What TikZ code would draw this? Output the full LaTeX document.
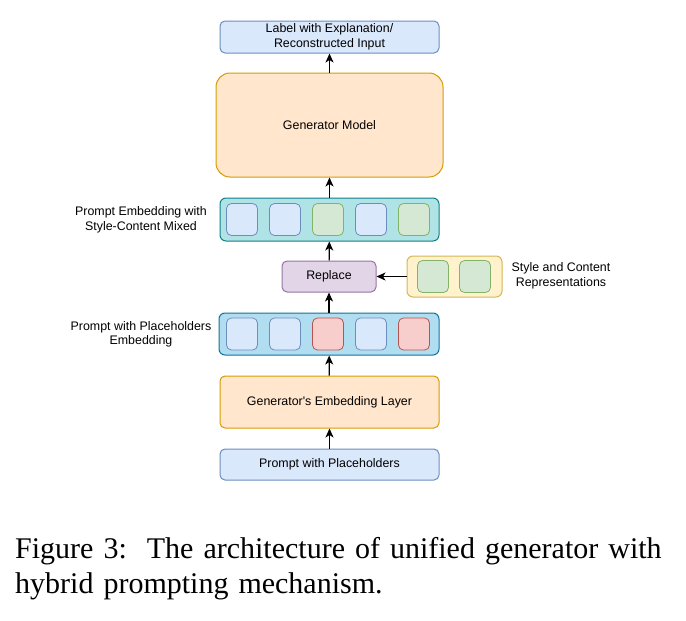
\documentclass[tikz,border=0pt]{standalone}
\usepackage{fontspec}
\setmainfont{Liberation Serif}
\newfontfamily\diagfont{Liberation Sans}
\usetikzlibrary{arrows.meta}
\definecolor{blueFill}{HTML}{DAE8FC}
\definecolor{blueLine}{HTML}{6C8EBF}
\definecolor{orangeFill}{HTML}{FFE6CC}
\definecolor{orangeLine}{HTML}{D79B00}
\definecolor{tealFill}{HTML}{B0E3E6}
\definecolor{tealLine}{HTML}{0E8088}
\definecolor{skyFill}{HTML}{B1DDF0}
\definecolor{skyLine}{HTML}{10739E}
\definecolor{greenFill}{HTML}{D5E8D4}
\definecolor{greenLine}{HTML}{82B366}
\definecolor{redFill}{HTML}{F8CECC}
\definecolor{redLine}{HTML}{B85450}
\definecolor{purpleFill}{HTML}{E1D5E7}
\definecolor{purpleLine}{HTML}{9673A6}
\definecolor{yellowFill}{HTML}{FFF2CC}
\definecolor{yellowLine}{HTML}{D6B656}
\begin{document}
\begin{tikzpicture}[x=1pt, y=-1pt,
    box/.style={draw, line width=1pt, rounded corners=5pt, inner sep=0pt, align=center,
      font=\diagfont\fontsize{12.4}{15}\selectfont},
    bluebox/.style={box, fill=blueFill, draw=blueLine},
    orangebox/.style={box, fill=orangeFill, draw=orangeLine},
    cell/.style={draw, line width=0.8pt, rounded corners=5pt, minimum width=31pt, minimum height=32pt, inner sep=0pt},
    sidelabel/.style={align=center, font=\diagfont\fontsize{12.4}{14.5}\selectfont},
    flow/.style={-{Stealth[length=9pt, width=8pt, inset=2.5pt]}, line width=1.2pt}]
  \useasboundingbox (0, 0) rectangle (686, 621) ;
  \begin{scope}
    \node[bluebox, minimum width=219pt, minimum height=32pt] (output) at (329.5, 37) {Label with Explanation/\\Reconstructed Input} ;
    \node[orangebox, rounded corners=14pt, minimum width=227pt, minimum height=104pt] (generator) at (329.5, 125) {Generator Model} ;
    \node[box, fill=tealFill, draw=tealLine, rounded corners=6pt, minimum width=219pt, minimum height=43pt] (mixed) at (329.5, 219.5) {} ;
    \node[box, fill=purpleFill, draw=purpleLine, minimum width=94pt, minimum height=31pt] (replace) at (329, 276.5) {Replace} ;
    \node[box, fill=yellowFill, draw=yellowLine, rounded corners=6pt, minimum width=95pt, minimum height=41pt] (styles) at (454.5, 276.5) {} ;
    \node[box, fill=skyFill, draw=skyLine, rounded corners=6pt, minimum width=220pt, minimum height=42pt] (holders) at (329, 334) {} ;
    \node[orangebox, minimum width=219pt, minimum height=52pt] (layer) at (329.5, 402) {Generator's Embedding Layer} ;
    \node[bluebox, minimum width=219pt, minimum height=31pt] (prompt) at (329.5, 464.5) {Prompt with Placeholders} ;
  \end{scope}
  \foreach \i/\c in {0/blue, 1/blue, 2/green, 3/blue, 4/green}
    \node[cell, fill=\c Fill, draw=\c Line] (mix\i) at (242 + 43 * \i, 219.5) {} ;
  \foreach \i/\c in {0/blue, 1/blue, 2/red, 3/blue, 4/red}
    \node[cell, fill=\c Fill, draw=\c Line] (ph\i) at (242 + 43 * \i, 334) {} ;
  \node[cell, fill=greenFill, draw=greenLine] (rep0) at (433, 276.5) {} ;
  \node[cell, fill=greenFill, draw=greenLine] (rep1) at (475, 276.5) {} ;
  \node[sidelabel] (mixedlabel) at (141, 220) {Prompt Embedding with\\Style-Content Mixed} ;
  \node[sidelabel] (holderslabel) at (141, 334.5) {Prompt with Placeholders\\Embedding} ;
  \node[sidelabel] (styleslabel) at (561, 276) {Style and Content\\Representations} ;
  \draw[flow] (prompt) -- (layer) ;
  \draw[flow] (layer) -- (holders) ;
  \draw[flow] (holders) -- (replace) ;
  \draw[flow] (styles) -- (replace) ;
  \draw[flow] (replace) -- (mixed) ;
  \draw[flow] (mixed) -- (generator) ;
  \draw[flow] (generator) -- (output) ;
  \node[anchor=north west, inner sep=0pt, text width=654pt, font=\fontsize{30}{35}\selectfont] (caption) at (15, 537)
    {\makebox[654pt][s]{Figure 3:\ \ The architecture of unified generator with}\\hybrid prompting mechanism.} ;
\end{tikzpicture}
\end{document}
